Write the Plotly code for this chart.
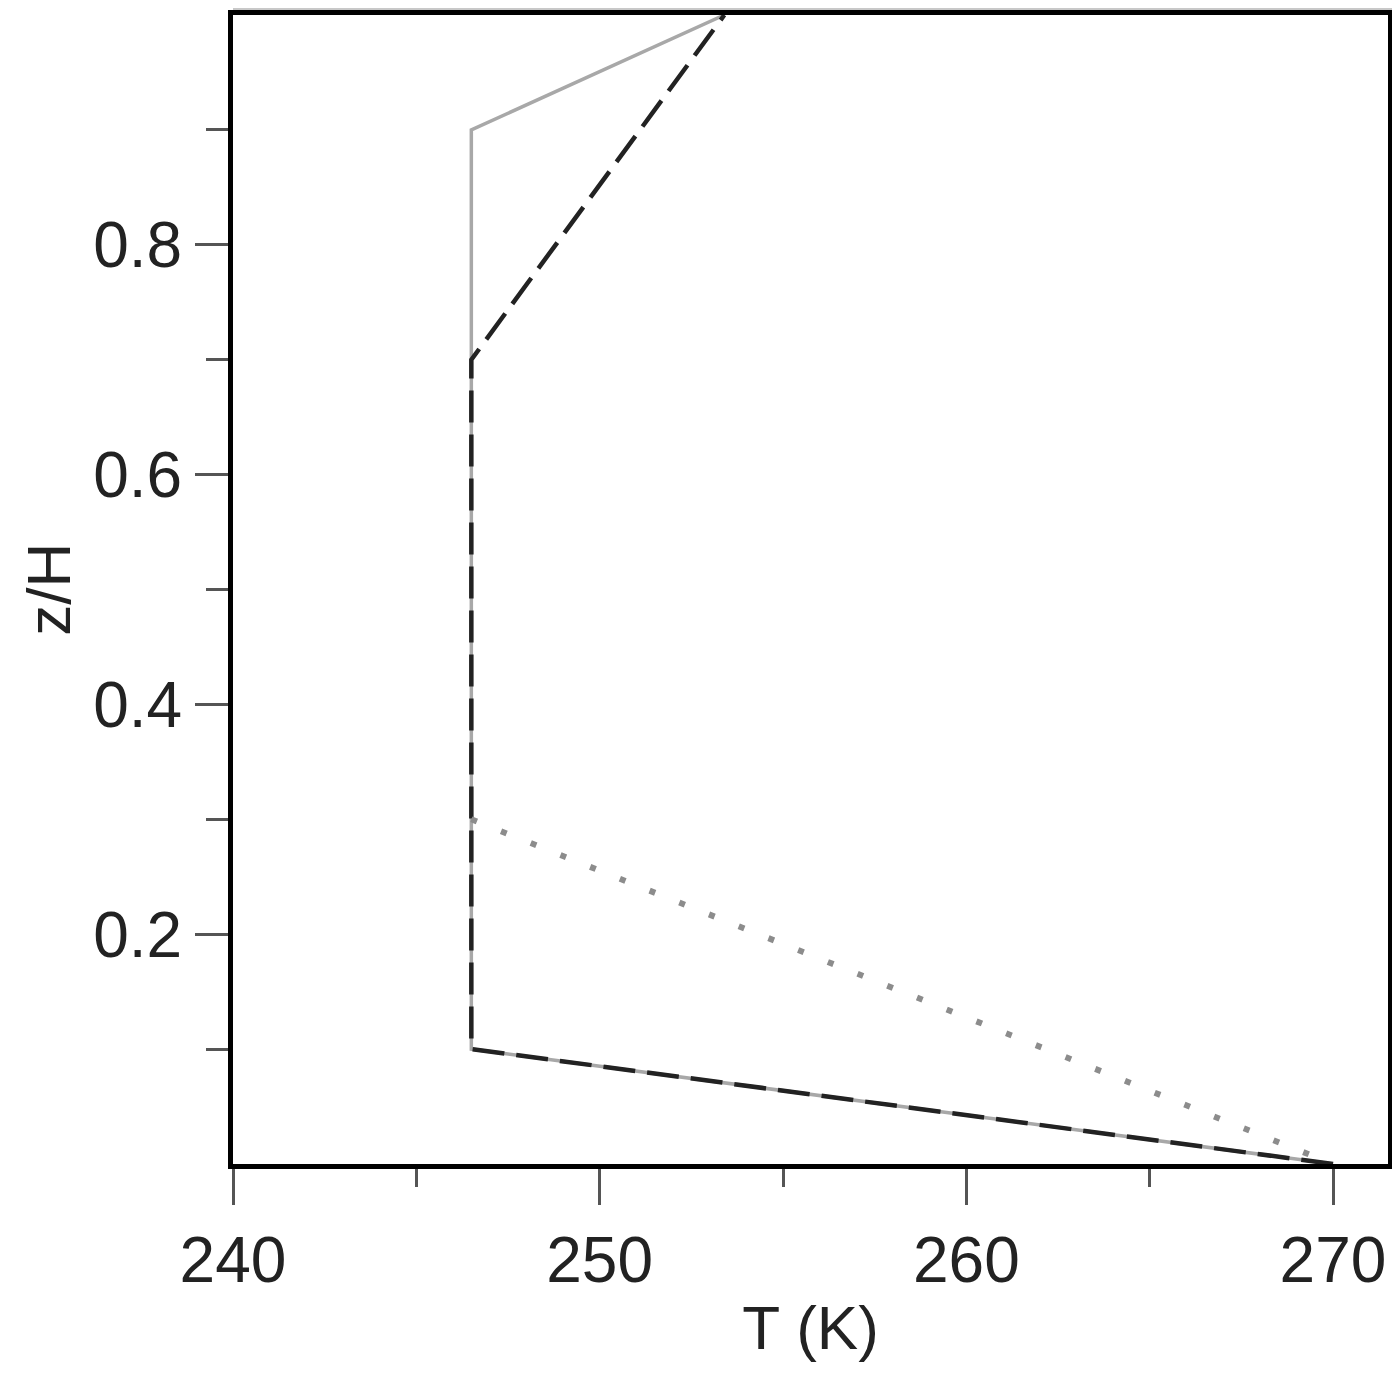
import plotly.graph_objects as go

# temperature profiles T(K) vs z/H
solid_T = [270.0, 246.5, 246.5, 253.4]
solid_z = [0.0, 0.1, 0.9, 1.0]

dashed_T = [270.0, 246.5, 246.5, 253.4]
dashed_z = [0.0, 0.1, 0.7, 1.0]

dotted_T = [246.5, 270.0]
dotted_z = [0.3, 0.0]

x_ticks = [240, 250, 260, 270]
x_minor = [245, 255, 265]
y_ticks = [0.2, 0.4, 0.6, 0.8]
y_minor = [0.1, 0.3, 0.5, 0.7, 0.9]

fig = go.Figure()
fig.add_trace(go.Scatter(x=solid_T, y=solid_z, mode="lines",
                         line=dict(color="#a8a8a8", width=3.5)))
fig.add_trace(go.Scatter(x=dashed_T, y=dashed_z, mode="lines",
                         line=dict(color="#222222", width=4.5, dash="32px,12px")))
fig.add_trace(go.Scatter(x=dotted_T, y=dotted_z, mode="lines",
                         line=dict(color="#8c8c8c", width=6, dash="6px,26px")))

font = dict(family="Liberation Sans, Arial, sans-serif", size=64, color="#222222")
title_font = dict(family="Liberation Sans, Arial, sans-serif", size=62, color="#222222")

fig.update_layout(
    width=1400, height=1373,
    margin=dict(l=225, r=20, t=7, b=217),
    paper_bgcolor="white", plot_bgcolor="white",
    showlegend=False,
    font=font,
    # light grey strip above the frame (cropped neighbour panel)
    shapes=[dict(type="rect", xref="paper", yref="paper",
                 x0=0, x1=1.1, y0=1, y1=1.05,
                 fillcolor="#c8c8c8", line_width=0, layer="below")],
    annotations=[dict(text="z/H", xref="paper", yref="paper",
                      x=-0.16, y=0.5, xanchor="center", yanchor="middle",
                      textangle=-90, showarrow=False, font=title_font)],
)
fig.update_xaxes(
    range=[240, 271.5], tickmode="array", tickvals=x_ticks,
    ticks="outside", ticklen=36, tickwidth=3, tickcolor="#555555",
    minor=dict(tickmode="array", tickvals=x_minor, ticks="outside",
               ticklen=18, tickwidth=3, tickcolor="#555555"),
    showline=True, mirror=True, linecolor="black", linewidth=5,
    showgrid=False, zeroline=False, automargin=False,
    title=dict(text="T (K)", font=title_font, standoff=12),
)
fig.update_yaxes(
    range=[0, 1], tickmode="array", tickvals=y_ticks,
    ticks="outside", ticklen=33, tickwidth=3, tickcolor="#555555",
    minor=dict(tickmode="array", tickvals=y_minor, ticks="outside",
               ticklen=22, tickwidth=3, tickcolor="#555555"),
    showline=True, mirror=True, linecolor="black", linewidth=5,
    showgrid=False, zeroline=False, automargin=False,
)

fig.write_html("out.html")
